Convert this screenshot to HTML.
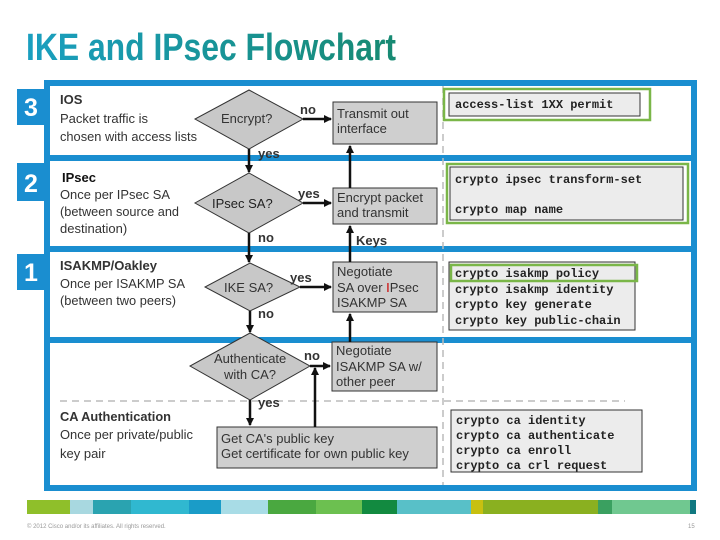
<!DOCTYPE html>
<html><head><meta charset="utf-8"><style>
body{margin:0;background:#fff;width:720px;height:540px;overflow:hidden}
svg{display:block}
text{font-family:"Liberation Sans",Arial,sans-serif;font-size:13px;fill:#333}
.m{font-family:"Liberation Mono",monospace;font-size:12px;font-weight:bold;fill:#222}
.b{font-weight:bold}
.n{font-size:25px;font-weight:bold;fill:#fff}
</style></head><body>
<svg width="720" height="540" viewBox="0 0 720 540">
<defs>
<linearGradient id="tg" x1="0" x2="1"><stop offset="0" stop-color="#1a9fc0"/><stop offset="1" stop-color="#178a72"/></linearGradient>
<marker id="ar" markerWidth="8" markerHeight="8" refX="7" refY="4" orient="auto" markerUnits="userSpaceOnUse"><path d="M0,0L8,4L0,8z" fill="#111"/></marker>
</defs>
<text x="26" y="60" textLength="370" lengthAdjust="spacingAndGlyphs" style="font-size:38px;font-weight:bold;fill:url(#tg)">IKE and IPsec Flowchart</text>

<rect x="47" y="83" width="647" height="405" fill="#fff" stroke="#1a8ed0" stroke-width="6"/>
<rect x="44" y="155" width="653" height="6" fill="#1a8ed0"/>
<rect x="44" y="246" width="653" height="6" fill="#1a8ed0"/>
<rect x="44" y="337" width="653" height="6" fill="#1a8ed0"/>
<rect x="17" y="89" width="30" height="36" fill="#1a8ed0"/><text class="n" x="24" y="116">3</text>
<rect x="17" y="163" width="30" height="38" fill="#1a8ed0"/><text class="n" x="24" y="192">2</text>
<rect x="17" y="254" width="30" height="36" fill="#1a8ed0"/><text class="n" x="24" y="281">1</text>

<line x1="443" y1="86" x2="443" y2="485" stroke="#bbb" stroke-width="1.5" stroke-dasharray="7,5"/>
<line x1="60" y1="401" x2="625" y2="401" stroke="#bbb" stroke-width="1.5" stroke-dasharray="7,5"/>

<text class="b" x="60" y="104">IOS</text>
<text x="60" y="123" textLength="88" lengthAdjust="spacingAndGlyphs">Packet traffic is</text>
<text x="60" y="141" textLength="137" lengthAdjust="spacingAndGlyphs">chosen with access lists</text>
<text class="b" x="62" y="182" style="fill:#111">IPsec</text>
<text x="60" y="199" textLength="110" lengthAdjust="spacingAndGlyphs">Once per IPsec SA</text>
<text x="60" y="216" textLength="119" lengthAdjust="spacingAndGlyphs">(between source and</text>
<text x="60" y="233">destination)</text>
<text class="b" x="60" y="270" textLength="97" lengthAdjust="spacingAndGlyphs">ISAKMP/Oakley</text>
<text x="60" y="288" textLength="125" lengthAdjust="spacingAndGlyphs">Once per ISAKMP SA</text>
<text x="60" y="305" textLength="116" lengthAdjust="spacingAndGlyphs">(between two peers)</text>
<text class="b" x="60" y="421" textLength="111" lengthAdjust="spacingAndGlyphs">CA Authentication</text>
<text x="60" y="439" textLength="133" lengthAdjust="spacingAndGlyphs">Once per private/public</text>
<text x="60" y="458">key pair</text>

<g fill="#c8c8c8" stroke="#333" stroke-width="1">
<polygon points="249,90 303,119 249,149 195,119"/>
<polygon points="249,173 303,203 249,233 195,203"/>
<polygon points="250,263 300,287 250,311 205,287"/>
<polygon points="250,333 310,366 250,400 190,366"/>
</g>
<text x="221" y="123">Encrypt?</text>
<text x="212" y="208" style="fill:#222">IPsec SA?</text>
<text x="224" y="292">IKE SA?</text>
<text x="214" y="363">Authenticate</text>
<text x="224" y="379">with CA?</text>

<g fill="#cfcfcf" stroke="#333" stroke-width="1">
<rect x="333" y="102" width="104" height="42"/>
<rect x="333" y="188" width="104" height="36"/>
<rect x="333" y="262" width="104" height="50"/>
<rect x="332" y="342" width="105" height="49"/>
<rect x="217" y="427" width="220" height="41"/>
</g>
<text x="337" y="118">Transmit out</text>
<text x="337" y="133">interface</text>
<text x="337" y="202">Encrypt packet</text>
<text x="337" y="217">and transmit</text>
<text x="337" y="276">Negotiate</text>
<text x="337" y="292">SA over <tspan style="fill:#c00">I</tspan>Psec</text>
<text x="337" y="307">ISAKMP SA</text>
<text x="336" y="355">Negotiate</text>
<text x="336" y="371">ISAKMP SA w/</text>
<text x="336" y="386">other peer</text>
<text x="221" y="443">Get CA's public key</text>
<text x="221" y="458">Get certificate for own public key</text>

<g stroke="#111" stroke-width="2.5" fill="none" marker-end="url(#ar)">
<line x1="303" y1="119" x2="331" y2="119"/>
<line x1="249" y1="149" x2="249" y2="172"/>
<line x1="303" y1="203" x2="331" y2="203"/>
<line x1="249" y1="233" x2="249" y2="262"/>
<line x1="300" y1="287" x2="331" y2="287"/>
<line x1="250" y1="311" x2="250" y2="332"/>
<line x1="310" y1="366" x2="330" y2="366"/>
<line x1="250" y1="400" x2="250" y2="425"/>
<line x1="315" y1="427" x2="315" y2="368"/>
<line x1="350" y1="188" x2="350" y2="146"/>
<line x1="350" y1="262" x2="350" y2="226"/>
<line x1="350" y1="342" x2="350" y2="314"/>
</g>
<text class="b" x="300" y="114">no</text>
<text class="b" x="258" y="158">yes</text>
<text class="b" x="298" y="198">yes</text>
<text class="b" x="258" y="242">no</text>
<text class="b" x="290" y="282">yes</text>
<text class="b" x="258" y="318">no</text>
<text class="b" x="304" y="360">no</text>
<text class="b" x="258" y="407">yes</text>
<text class="b" x="356" y="245">Keys</text>

<rect x="444" y="89" width="206" height="31" fill="none" stroke="#7ab648" stroke-width="2.5"/>
<rect x="449" y="93" width="191" height="23" fill="#ececec" stroke="#333"/>
<text class="m" x="455" y="108">access-list 1XX permit</text>
<rect x="447" y="164" width="241" height="59" fill="none" stroke="#7ab648" stroke-width="2.5"/>
<rect x="450" y="167" width="233" height="53" fill="#ececec" stroke="#333"/>
<text class="m" x="455" y="183">crypto ipsec transform-set</text>
<text class="m" x="455" y="213">crypto map name</text>
<rect x="449" y="262" width="186" height="68" fill="#ececec" stroke="#333"/>
<rect x="451" y="265" width="186" height="16" fill="none" stroke="#7ab648" stroke-width="2.5"/>
<text class="m" x="455" y="277">crypto isakmp policy</text>
<text class="m" x="455" y="293">crypto isakmp identity</text>
<text class="m" x="455" y="308">crypto key generate</text>
<text class="m" x="455" y="324">crypto key public-chain</text>
<rect x="451" y="410" width="191" height="62" fill="#ececec" stroke="#333"/>
<text class="m" x="456" y="424">crypto ca identity</text>
<text class="m" x="456" y="439">crypto ca authenticate</text>
<text class="m" x="456" y="454">crypto ca enroll</text>
<text class="m" x="456" y="469">crypto ca crl request</text>

<g>
<rect x="27" y="500" width="43" height="14" fill="#8fbf2a"/>
<rect x="70" y="500" width="23" height="14" fill="#a8d8e0"/>
<rect x="93" y="500" width="38" height="14" fill="#2aa3b0"/>
<rect x="131" y="500" width="58" height="14" fill="#30b8d0"/>
<rect x="189" y="500" width="32" height="14" fill="#1a9cc8"/>
<rect x="221" y="500" width="47" height="14" fill="#a8dce6"/>
<rect x="268" y="500" width="48" height="14" fill="#4aa840"/>
<rect x="316" y="500" width="46" height="14" fill="#6cc050"/>
<rect x="362" y="500" width="35" height="14" fill="#128a40"/>
<rect x="397" y="500" width="74" height="14" fill="#58c0c8"/>
<rect x="471" y="500" width="12" height="14" fill="#c8c010"/>
<rect x="483" y="500" width="115" height="14" fill="#8ab020"/>
<rect x="598" y="500" width="14" height="14" fill="#3aa060"/>
<rect x="612" y="500" width="78" height="14" fill="#70c890"/>
<rect x="690" y="500" width="6" height="14" fill="#107880"/>
</g>
<text x="27" y="528" style="font-size:6px;fill:#999">© 2012 Cisco and/or its affiliates. All rights reserved.</text>
<text x="688" y="528" style="font-size:6px;fill:#999">15</text>
</svg>
</body></html>
